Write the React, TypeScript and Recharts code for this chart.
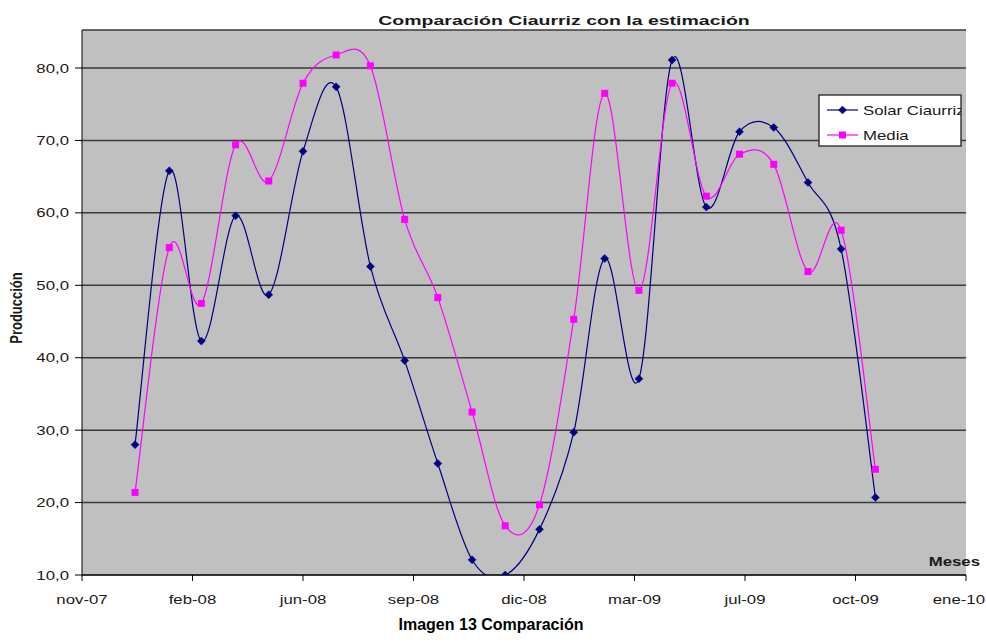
import React from 'react';
import { LineChart, Line, XAxis, YAxis, CartesianGrid } from 'recharts';

// monthly production, one point per month (first day of the month)
const meses = [
  '2008-01', '2008-02', '2008-03', '2008-04', '2008-05', '2008-06', '2008-07', '2008-08',
  '2008-09', '2008-10', '2008-11', '2008-12', '2009-01', '2009-02', '2009-03', '2009-04',
  '2009-05', '2009-06', '2009-07', '2009-08', '2009-09', '2009-10', '2009-11',
];
const solarCiaurriz = [
  28.0, 65.8, 42.3, 59.6, 48.7, 68.5, 77.4, 52.6, 39.6, 25.4, 12.1, 10.0,
  16.3, 29.7, 53.7, 37.1, 81.1, 60.8, 71.2, 71.8, 64.2, 55.0, 20.7,
];
const media = [
  21.4, 55.2, 47.5, 69.4, 64.4, 77.9, 81.8, 80.3, 59.1, 48.3, 32.5, 16.8,
  19.7, 45.3, 76.5, 49.3, 77.9, 62.3, 68.1, 66.7, 51.9, 57.6, 24.6,
];
const etiquetasX = ['nov-07', 'feb-08', 'jun-08', 'sep-08', 'dic-08', 'mar-09', 'jul-09', 'oct-09', 'ene-10'];
const ticksY = [10, 20, 30, 40, 50, 60, 70, 80];

// date axis: starts mid nov-07, major unit of 100 days
const DIA = 86400000;
const inicioEje = Date.UTC(2007, 10, 14);
const PASO = 100;
const ticksX = etiquetasX.map((_, i) => i * PASO);

const datos = meses.map((m, i) => {
  const [anio, mes] = m.split('-').map(Number);
  return {
    dia: (Date.UTC(anio, mes - 1, 1) - inicioEje) / DIA,
    solar: solarCiaurriz[i],
    media: media[i],
  };
});

const FUENTE = '"Liberation Sans", Arial, sans-serif';
const ANCHO = 1.4; // the chart text is drawn horizontally stretched

// smoothed line like the spreadsheet one: Bezier through every point,
// tangents taken from the neighbouring points (1/6 of the chord)
function curvaSuave(context: any) {
  let px: number[] = [];
  let py: number[] = [];
  return {
    areaStart() {},
    areaEnd() {},
    lineStart() {
      px = [];
      py = [];
    },
    point(x: number, y: number) {
      px.push(+x);
      py.push(+y);
    },
    lineEnd() {
      const n = px.length;
      if (!n) return;
      context.moveTo(px[0], py[0]);
      for (let i = 0; i < n - 1; i++) {
        const a = Math.max(i - 1, 0);
        const d = Math.min(i + 2, n - 1);
        context.bezierCurveTo(
          px[i] + (px[i + 1] - px[a]) / 6,
          py[i] + (py[i + 1] - py[a]) / 6,
          px[i + 1] - (px[d] - px[i]) / 6,
          py[i + 1] - (py[d] - py[i]) / 6,
          px[i + 1],
          py[i + 1]
        );
      }
    },
  };
}

function Texto({ x, y, anchor = 'middle', size = 12, bold = false, rot = 0, ancho = ANCHO, color = '#1a1a1a', children }: any) {
  const t = rot ? `translate(${x},${y}) rotate(${rot}) scale(1,${ancho})` : `translate(${x},${y}) scale(${ancho},1)`;
  return (
    <text
      transform={t}
      textAnchor={anchor}
      fontFamily={FUENTE}
      fontSize={size}
      fontWeight={bold ? 'bold' : 'normal'}
      fill={color}
    >
      {children}
    </text>
  );
}

const TickX = (props: any) => {
  const { x, y, payload } = props;
  const i = ticksX.indexOf(payload.value);
  const ultimo = i === etiquetasX.length - 1;
  // the last label would run past the right edge, so it is right-aligned
  return (
    <Texto x={ultimo ? 985 : x} y={y + 21} anchor={ultimo ? 'end' : 'middle'} size={12}>
      {etiquetasX[i]}
    </Texto>
  );
};

const TickY = (props: any) => {
  const { x, y, payload } = props;
  return (
    <Texto x={x} y={y + 4.5} anchor="end" size={12}>
      {payload.value.toFixed(1).replace('.', ',')}
    </Texto>
  );
};

const rombo = (color: string) => (p: any) => {
  const { cx, cy, index } = p;
  if (cx == null || cy == null) return <g key={index} />;
  return (
    <path
      key={index}
      d={`M${cx},${cy - 4}L${cx + 4},${cy}L${cx},${cy + 4}L${cx - 4},${cy}Z`}
      fill={color}
      stroke={color}
      strokeWidth={0.5}
    />
  );
};

const cuadrado = (color: string) => (p: any) => {
  const { cx, cy, index } = p;
  if (cx == null || cy == null) return <g key={index} />;
  return <rect key={index} x={cx - 3.5} y={cy - 3.5} width={7} height={7} fill={color} />;
};

const AZUL = '#000080';
const MAGENTA = '#ff00ff';

export default function App() {
  return (
    <div style={{ position: 'relative', width: 986, height: 644, overflow: 'hidden', background: '#fff' }}>
      <style>{'body{margin:0}'}</style>
      <LineChart width={986} height={644} data={datos} margin={{ top: 30, right: 20, bottom: 0, left: 0 }}>
        <CartesianGrid horizontal vertical={false} fill="#c0c0c0" fillOpacity={1} stroke="#3a3a3a" strokeWidth={1.5} />
        <XAxis
          dataKey="dia"
          type="number"
          domain={[0, PASO * 8]}
          ticks={ticksX}
          interval={0}
          height={69}
          stroke="#000"
          tickSize={6}
          tickMargin={2}
          tick={<TickX />}
        />
        <YAxis
          type="number"
          domain={[10, 85.25]}
          ticks={ticksY}
          interval={0}
          width={82}
          stroke="#000"
          tickSize={7}
          tickMargin={6}
          tick={<TickY />}
          allowDataOverflow
        />
        <Line
          dataKey="solar"
          name="Solar Ciaurriz"
          type={curvaSuave as any}
          stroke={AZUL}
          strokeWidth={1.2}
          dot={rombo(AZUL)}
          activeDot={false}
          isAnimationActive={false}
        />
        <Line
          dataKey="media"
          name="Media"
          type={curvaSuave as any}
          stroke={MAGENTA}
          strokeWidth={1.2}
          dot={cuadrado(MAGENTA)}
          activeDot={false}
          isAnimationActive={false}
        />
      </LineChart>

      <svg width={986} height={644} style={{ position: 'absolute', left: 0, top: 0, pointerEvents: 'none' }}>
        <Texto x={564} y={25} size={13} bold ancho={1.5}>
          Comparación Ciaurriz con la estimación
        </Texto>
        <Texto x={22} y={308} size={13} bold rot={-90} ancho={1.25}>
          Producción
        </Texto>
        <Texto x={980} y={566} anchor="end" size={12} bold>
          Meses
        </Texto>

        {/* legend */}
        <defs>
          <clipPath id="caja-leyenda">
            <rect x={819} y={95} width={142} height={51} />
          </clipPath>
        </defs>
        <rect x={819} y={95} width={142} height={51} fill="#fff" stroke="#222" strokeWidth={1.3} />
        <g clipPath="url(#caja-leyenda)">
          <line x1={827} x2={858} y1={110} y2={110} stroke={AZUL} strokeWidth={1.2} />
          {rombo(AZUL)({ cx: 842.5, cy: 110, index: 'l1' })}
          <Texto x={863} y={114.5} anchor="start" size={12}>
            Solar Ciaurriz
          </Texto>
          <line x1={827} x2={858} y1={135} y2={135} stroke={MAGENTA} strokeWidth={1.2} />
          {cuadrado(MAGENTA)({ cx: 842.5, cy: 135, index: 'l2' })}
          <Texto x={863} y={139.5} anchor="start" size={12}>
            Media
          </Texto>
        </g>

        <text x={491} y={630} textAnchor="middle" fontFamily={FUENTE} fontSize={16} fontWeight="bold" fill="#000">
          Imagen 13 Comparación
        </text>
      </svg>
    </div>
  );
}
